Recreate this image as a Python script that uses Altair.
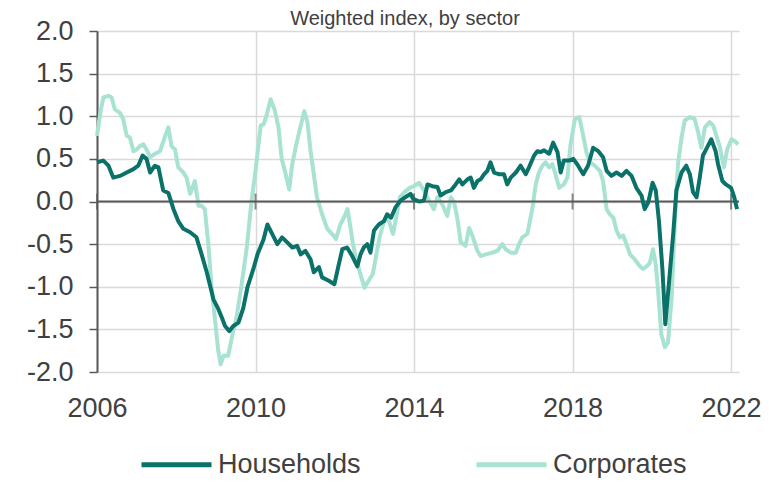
import altair as alt
import pandas as pd

FONT = "Liberation Sans, Arial, sans-serif"
title_text = "Weighted index, by sector"

series_names = ["Households", "Corporates"]
series_colors = ["#0b7269", "#a7e2d2"]

y_ticks = [-2.0, -1.5, -1.0, -0.5, 0.0, 0.5, 1.0, 1.5, 2.0]
x_ticks = [2006, 2010, 2014, 2018, 2022]

hh_year = [2006.00, 2006.16, 2006.29, 2006.41, 2006.58, 2006.75, 2006.92, 2007.04, 2007.15, 2007.25,
           2007.34, 2007.46, 2007.55, 2007.67, 2007.80, 2007.93, 2008.05, 2008.18, 2008.35, 2008.51,
           2008.64, 2008.77, 2008.94, 2009.06, 2009.15, 2009.23, 2009.34, 2009.44, 2009.57, 2009.69,
           2009.80, 2009.94, 2010.05, 2010.20, 2010.30, 2010.42, 2010.55, 2010.67, 2010.80, 2010.93,
           2011.05, 2011.14, 2011.26, 2011.39, 2011.47, 2011.60, 2011.68, 2011.85, 2011.99, 2012.10,
           2012.19, 2012.31, 2012.44, 2012.57, 2012.65, 2012.73, 2012.82, 2012.90, 2012.99, 2013.11,
           2013.24, 2013.32, 2013.42, 2013.53, 2013.66, 2013.78, 2013.91, 2013.98, 2014.13, 2014.25,
           2014.34, 2014.46, 2014.59, 2014.67, 2014.80, 2014.93, 2015.05, 2015.14, 2015.22, 2015.35,
           2015.43, 2015.51, 2015.60, 2015.68, 2015.77, 2015.85, 2015.93, 2016.02, 2016.14, 2016.27,
           2016.35, 2016.44, 2016.57, 2016.69, 2016.82, 2016.90, 2017.03, 2017.11, 2017.20, 2017.28,
           2017.41, 2017.51, 2017.62, 2017.70, 2017.78, 2017.91, 2018.02, 2018.14, 2018.27, 2018.39,
           2018.52, 2018.65, 2018.77, 2018.86, 2018.98, 2019.11, 2019.24, 2019.36, 2019.49, 2019.61,
           2019.74, 2019.82, 2019.91, 2020.02, 2020.10, 2020.18, 2020.27, 2020.34, 2020.43, 2020.54,
           2020.62, 2020.75, 2020.87, 2020.96, 2021.04, 2021.13, 2021.21, 2021.29, 2021.39, 2021.50,
           2021.61, 2021.67, 2021.78, 2021.87, 2022.00, 2022.08, 2022.15]
hh_value = [0.46, 0.48, 0.42, 0.28, 0.30, 0.34, 0.38, 0.42, 0.54, 0.50,
            0.34, 0.42, 0.40, 0.13, 0.10, -0.09, -0.23, -0.32, -0.36, -0.42,
            -0.62, -0.83, -1.15, -1.26, -1.36, -1.46, -1.52, -1.46, -1.42, -1.25,
            -1.00, -0.80, -0.62, -0.45, -0.27, -0.38, -0.50, -0.42, -0.48, -0.54,
            -0.52, -0.62, -0.58, -0.68, -0.83, -0.77, -0.89, -0.93, -0.97, -0.74,
            -0.56, -0.54, -0.64, -0.76, -0.62, -0.54, -0.50, -0.60, -0.34, -0.27,
            -0.23, -0.15, -0.19, -0.07, 0.01, 0.05, 0.09, 0.03, 0.00, 0.01,
            0.20, 0.18, 0.17, 0.07, 0.11, 0.13, 0.20, 0.26, 0.20, 0.26,
            0.28, 0.16, 0.24, 0.26, 0.32, 0.36, 0.46, 0.34, 0.32, 0.32,
            0.20, 0.28, 0.34, 0.42, 0.32, 0.40, 0.54, 0.59, 0.58, 0.60,
            0.56, 0.69, 0.58, 0.34, 0.48, 0.48, 0.50, 0.42, 0.32, 0.42,
            0.63, 0.59, 0.52, 0.36, 0.30, 0.34, 0.30, 0.36, 0.30, 0.16,
            0.07, -0.09, -0.01, 0.22, 0.13, -0.23, -0.81, -1.44, -0.97, -0.38,
            0.13, 0.34, 0.42, 0.32, 0.11, 0.05, 0.28, 0.54, 0.63, 0.73,
            0.59, 0.44, 0.24, 0.20, 0.16, 0.05, -0.09]

corp_year = [2006.00, 2006.08, 2006.16, 2006.29, 2006.37, 2006.45, 2006.58, 2006.66, 2006.75, 2006.83,
             2006.92, 2007.00, 2007.08, 2007.17, 2007.25, 2007.34, 2007.46, 2007.59, 2007.72, 2007.80,
             2007.88, 2007.97, 2008.05, 2008.18, 2008.26, 2008.35, 2008.47, 2008.56, 2008.64, 2008.72,
             2008.81, 2008.89, 2008.98, 2009.06, 2009.12, 2009.19, 2009.31, 2009.40, 2009.52, 2009.65,
             2009.78, 2009.90, 2010.00, 2010.13, 2010.21, 2010.29, 2010.38, 2010.48, 2010.58, 2010.66,
             2010.74, 2010.85, 2010.92, 2011.01, 2011.13, 2011.23, 2011.31, 2011.39, 2011.47, 2011.55,
             2011.68, 2011.81, 2011.93, 2012.03, 2012.14, 2012.23, 2012.32, 2012.37, 2012.46, 2012.54,
             2012.67, 2012.75, 2012.88, 2012.96, 2013.05, 2013.13, 2013.22, 2013.30, 2013.38, 2013.47,
             2013.55, 2013.64, 2013.76, 2013.89, 2014.00, 2014.13, 2014.25, 2014.38, 2014.50, 2014.59,
             2014.71, 2014.84, 2014.93, 2015.01, 2015.09, 2015.18, 2015.30, 2015.39, 2015.47, 2015.60,
             2015.68, 2015.81, 2015.98, 2016.10, 2016.23, 2016.31, 2016.44, 2016.57, 2016.65, 2016.73,
             2016.86, 2016.99, 2017.07, 2017.15, 2017.24, 2017.32, 2017.41, 2017.49, 2017.57, 2017.66,
             2017.78, 2017.87, 2017.95, 2018.06, 2018.17, 2018.27, 2018.35, 2018.44, 2018.56, 2018.69,
             2018.77, 2018.86, 2018.94, 2019.03, 2019.11, 2019.19, 2019.28, 2019.36, 2019.45, 2019.57,
             2019.70, 2019.78, 2019.87, 2019.95, 2020.03, 2020.10, 2020.16, 2020.24, 2020.33, 2020.41,
             2020.50, 2020.58, 2020.66, 2020.75, 2020.83, 2020.96, 2021.08, 2021.17, 2021.25, 2021.34,
             2021.46, 2021.55, 2021.63, 2021.71, 2021.82, 2021.90, 2022.01, 2022.09, 2022.18]
corp_value = [0.77, 1.03, 1.22, 1.24, 1.22, 1.08, 1.04, 0.97, 0.77, 0.75,
              0.59, 0.61, 0.65, 0.67, 0.61, 0.52, 0.56, 0.59, 0.77, 0.87,
              0.65, 0.61, 0.40, 0.34, 0.28, 0.09, 0.24, -0.05, -0.05, -0.09,
              -0.50, -1.00, -1.40, -1.75, -1.91, -1.81, -1.81, -1.60, -1.36, -0.97,
              -0.54, 0.01, 0.36, 0.89, 0.91, 1.03, 1.20, 1.08, 0.87, 0.50,
              0.36, 0.14, 0.42, 0.63, 0.87, 1.06, 0.93, 0.59, 0.32, 0.05,
              -0.15, -0.32, -0.38, -0.44, -0.27, -0.19, -0.09, -0.23, -0.50, -0.68,
              -0.89, -1.01, -0.91, -0.85, -0.62, -0.42, -0.27, -0.19, -0.25, -0.38,
              -0.19, 0.05, 0.11, 0.16, 0.18, 0.22, 0.13, 0.01, -0.09, 0.05,
              -0.03, -0.17, 0.05, -0.01, -0.19, -0.48, -0.52, -0.31, -0.40, -0.58,
              -0.64, -0.62, -0.60, -0.58, -0.50, -0.56, -0.60, -0.60, -0.50, -0.42,
              -0.38, -0.07, 0.20, 0.34, 0.42, 0.46, 0.40, 0.44, 0.32, 0.16,
              0.20, 0.28, 0.67, 0.97, 0.99, 0.77, 0.58, 0.46, 0.42, 0.36,
              0.24, -0.09, -0.15, -0.19, -0.34, -0.42, -0.40, -0.50, -0.62, -0.68,
              -0.76, -0.79, -0.76, -0.72, -0.56, -0.74, -1.05, -1.56, -1.71, -1.65,
              -1.13, -0.27, 0.44, 0.75, 0.95, 0.99, 0.97, 0.81, 0.63, 0.87,
              0.93, 0.89, 0.77, 0.65, 0.40, 0.61, 0.73, 0.71, 0.67]

df = pd.concat([
    pd.DataFrame({"year": hh_year, "value": hh_value, "series": series_names[0]}),
    pd.DataFrame({"year": corp_year, "value": corp_value, "series": series_names[1]}),
], ignore_index=True)

W, H = 642, 341
x_scale = alt.Scale(domain=[2006, 2022.2], nice=False, zero=False)
y_scale = alt.Scale(domain=[-2, 2], nice=False)
color_scale = alt.Scale(domain=series_names, range=series_colors)

x_enc = alt.X("year:Q", scale=x_scale,
              axis=alt.Axis(values=x_ticks, format="d", title=None, domain=False, ticks=False,
                            grid=True, gridColor="#d9d9d9", gridWidth=1.5, labelPadding=23,
                            labelFlush=False,
                            labelFontSize=27, labelColor="#404040", labelFont=FONT))
y_enc = alt.Y("value:Q", scale=y_scale,
              axis=alt.Axis(values=y_ticks, title=None,
                            labelExpr="replace(format(datum.value, '.1f'), '−', '-')",
                            domain=True, domainColor="#595959", domainWidth=2,
                            ticks=True, tickSize=8, tickColor="#595959", tickWidth=1.5,
                            grid=True, gridColor="#d9d9d9", gridWidth=1.5, labelPadding=16,
                            labelFontSize=27, labelColor="#404040", labelFont=FONT))

legend = alt.Legend(title=None, orient="none", legendX=42, legendY=396, direction="horizontal",
                    symbolType="stroke", symbolSize=4900, symbolStrokeWidth=5,
                    labelFontSize=27, labelFont=FONT, labelColor="#404040",
                    labelOffset=4, columnPadding=105, padding=0)

base = alt.Chart(df)

corp_line = base.transform_filter(alt.datum.series == series_names[1]).mark_line(
    strokeWidth=4, strokeJoin="round").encode(
    x=x_enc, y=y_enc,
    color=alt.Color("series:N", scale=color_scale, legend=legend))
hh_line = base.transform_filter(alt.datum.series == series_names[0]).mark_line(
    strokeWidth=4, strokeJoin="round").encode(
    x=alt.X("year:Q", scale=x_scale), y=alt.Y("value:Q", scale=y_scale),
    color=alt.Color("series:N", scale=color_scale, legend=legend))

zero_df = pd.DataFrame({"value": [0.0]})
zero_rule = alt.Chart(zero_df).mark_rule(color="#595959", strokeWidth=2).encode(
    y=alt.Y("value:Q", scale=y_scale))

tick_df = pd.DataFrame({"year": x_ticks, "value": [0.0] * len(x_ticks)})
cross_ticks = alt.Chart(tick_df).mark_tick(orient="vertical", size=16, thickness=2,
                                           color="#595959").encode(
    x=alt.X("year:Q", scale=x_scale), y=alt.Y("value:Q", scale=y_scale))

title_df = pd.DataFrame({"t": [title_text]})
title_mark = alt.Chart(title_df).mark_text(font=FONT, fontSize=20, color="#404040",
                                           align="center", baseline="alphabetic").encode(
    text="t:N", x=alt.value(308), y=alt.value(-6))

chart = alt.layer(corp_line, zero_rule, cross_ticks, hh_line, title_mark).properties(
    width=W, height=H,
    autosize=alt.AutoSizeParams(type="none"),
    padding={"left": 89, "top": 23, "right": 22, "bottom": 106},
).configure_view(stroke=None)

chart.save("out.html", embed_options={"renderer": "svg", "actions": False})
